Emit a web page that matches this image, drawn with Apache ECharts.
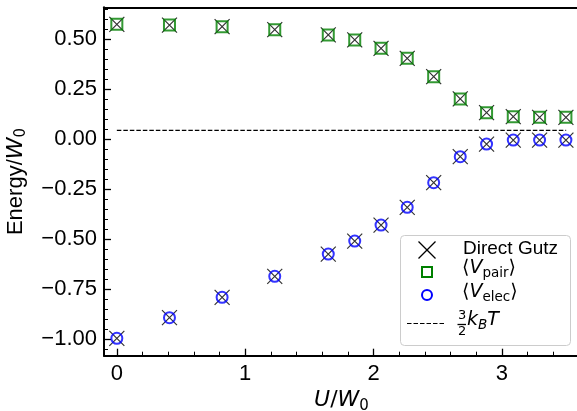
<!DOCTYPE html>
<html>
<head>
<meta charset="utf-8">
<script src="https://cdn.jsdelivr.net/npm/echarts@6/dist/echarts.min.js"></script>
<style>html,body{margin:0;padding:0;background:#fff}#c{width:577px;height:411px}</style>
</head>
<body>
<div id="c"></div>
<script>
// ---- data ----
const U = [0, 0.41, 0.82, 1.23, 1.647, 1.853, 2.058, 2.262, 2.468, 2.675, 2.88, 3.088, 3.293, 3.498];
const Vpair = [0.575, 0.571, 0.563, 0.548, 0.522, 0.497, 0.455, 0.405, 0.313, 0.202, 0.133, 0.113, 0.110, 0.110];
const Velec = [-0.995, -0.892, -0.790, -0.685, -0.574, -0.509, -0.429, -0.340, -0.217, -0.087, -0.024, -0.004, -0.004, -0.004];
const gutzPair = [0.575, 0.571, 0.563, 0.548, 0.522, 0.497, 0.455, 0.405, 0.313, 0.202, 0.133, 0.113, 0.110, 0.110];
const gutzElec = [-0.995, -0.892, -0.790, -0.685, -0.574, -0.509, -0.429, -0.340, -0.217, -0.087, -0.024, -0.004, -0.004, -0.004];
const kTx = [0, 3.5];
const kTy = [0.045, 0.045];
const xTicks = [0, 1, 2, 3];
const yTicks = [-1, -0.75, -0.5, -0.25, 0, 0.25, 0.5];

const xMinor = [];
for (let i = 0; i <= 18; i++) xMinor.push(+(i * 0.2).toFixed(2));
const yMinor = [];
for (let i = -21; i <= 13; i++) yMinor.push(+(i * 0.05).toFixed(2));

const zip = (a, b) => a.map((v, i) => [v, b[i]]);
const XMIN = -0.1, XMAX = 3.6, YMIN = -1.082, YMAX = 0.66;
const TXT = 'Liberation Sans';
const MATH = 'DejaVu Sans';

const chart = echarts.init(document.getElementById('c'), null, {renderer: 'canvas'});
const axisLine = {show: true, onZero: false, lineStyle: {color: '#000', width: 2}};
const noLine = {show: false, onZero: false};
const option = {
  animation: false,
  grid: {left: 104, right: -2, top: 7.3, bottom: 55.3, containLabel: false, outerBoundsMode: 'none'},
  xAxis: [
    {type: 'value', min: XMIN, max: XMAX, position: 'bottom',
     axisLine: axisLine, splitLine: {show: false},
     axisTick: {show: true, inside: true, length: 7, customValues: xTicks, lineStyle: {color: '#000', width: 1.3}},
     axisLabel: {show: true, customValues: xTicks, margin: 7, color: '#000', fontFamily: TXT, fontSize: 22, formatter: v => String(v)},
     name: '{i|U}{n|/}{i|W}{s|0}', nameLocation: 'middle', nameGap: 31,
     nameTextStyle: {rich: {
       i: {fontFamily: MATH, fontStyle: 'italic', fontSize: 22, color: '#000', lineHeight: 26},
       n: {fontFamily: MATH, fontSize: 22, color: '#000', lineHeight: 26},
       s: {fontFamily: MATH, fontSize: 15, color: '#000', lineHeight: 16, verticalAlign: 'bottom'}
     }}},
    {type: 'value', min: XMIN, max: XMAX, position: 'bottom',
     axisLine: noLine, splitLine: {show: false},
     axisTick: {show: true, inside: true, length: 4, customValues: xMinor, lineStyle: {color: '#000', width: 1}},
     axisLabel: {show: false}},
    {type: 'value', min: XMIN, max: XMAX, position: 'top',
     axisLine: axisLine, splitLine: {show: false}, axisTick: {show: false}, axisLabel: {show: false}}
  ],
  yAxis: [
    {type: 'value', min: YMIN, max: YMAX, position: 'left',
     axisLine: axisLine, splitLine: {show: false},
     axisTick: {show: true, inside: true, length: 7, customValues: yTicks, lineStyle: {color: '#000', width: 1.3}},
     axisLabel: {show: true, customValues: yTicks, margin: 7, color: '#000', fontFamily: TXT, fontSize: 22,
       formatter: v => (v < 0 ? '\u2212' : '') + Math.abs(v).toFixed(2)},
     name: '{n|Energy/}{i|W}{s|0}', nameLocation: 'middle', nameGap: 75, nameRotate: 90,
     nameTextStyle: {rich: {
       n: {fontFamily: TXT, fontSize: 22, color: '#000', lineHeight: 26},
       i: {fontFamily: MATH, fontStyle: 'italic', fontSize: 22, color: '#000', lineHeight: 26},
       s: {fontFamily: MATH, fontSize: 15, color: '#000', lineHeight: 16, verticalAlign: 'bottom'}
     }}},
    {type: 'value', min: YMIN, max: YMAX, position: 'left',
     axisLine: noLine, splitLine: {show: false},
     axisTick: {show: true, inside: true, length: 4, customValues: yMinor, lineStyle: {color: '#000', width: 1}},
     axisLabel: {show: false}}
  ],
  series: [
    {name: 'Direct Gutz pair', type: 'scatter', data: zip(U, gutzPair), symbol: 'path://M0 0L10 10M10 0L0 10', symbolSize: 15,
     itemStyle: {color: 'rgba(0,0,0,0)', borderColor: '#000', borderWidth: 1.2}, z: 3},
    {name: 'Direct Gutz elec', type: 'scatter', data: zip(U, gutzElec), symbol: 'path://M0 0L10 10M10 0L0 10', symbolSize: 15,
     itemStyle: {color: 'rgba(0,0,0,0)', borderColor: '#000', borderWidth: 1.2}, z: 3},
    {name: 'Vpair', type: 'scatter', data: zip(U, Vpair), symbol: 'rect', symbolSize: 11,
     itemStyle: {color: 'rgba(0,0,0,0)', borderColor: '#008000', borderWidth: 2}, z: 4},
    {name: 'Velec', type: 'scatter', data: zip(U, Velec), symbol: 'circle', symbolSize: 11,
     itemStyle: {color: 'rgba(0,0,0,0)', borderColor: '#0000ff', borderWidth: 2}, z: 4},
    {name: 'kT', type: 'line', data: zip(kTx, kTy), symbol: 'none',
     lineStyle: {color: '#000', width: 1.2, type: [4.5, 2]}, z: 2}
  ],
  graphic: [
    {type: 'rect', left: 400, top: 235, shape: {width: 170, height: 110, r: 4},
     style: {fill: 'rgba(255,255,255,0.85)', stroke: '#cccccc', lineWidth: 1}, z: 100},
    {type: 'polyline', shape: {points: [[418.5, 241.5], [435.5, 258.5]]}, style: {stroke: '#000', lineWidth: 1.3}, z: 101},
    {type: 'polyline', shape: {points: [[435.5, 241.5], [418.5, 258.5]]}, style: {stroke: '#000', lineWidth: 1.3}, z: 101},
    {type: 'rect', shape: {x: 422, y: 267, width: 10, height: 10}, style: {fill: 'none', stroke: '#008000', lineWidth: 2}, z: 101},
    {type: 'circle', shape: {cx: 427, cy: 295, r: 5}, style: {fill: 'none', stroke: '#0000ff', lineWidth: 2}, z: 101},
    {type: 'line', shape: {x1: 407, y1: 323.5, x2: 446, y2: 323.5}, style: {stroke: '#000', lineWidth: 1.2, lineDash: [4.5, 2]}, z: 101},
    {type: 'text', left: 463, top: 239, style: {text: 'Direct Gutz', font: '19px "Liberation Sans"', fill: '#000'}, z: 101},
    {type: 'text', left: 462, top: 259, style: {
      text: '{n|\u27E8}{i|V}{s|pair}{n|\u27E9}',
      rich: {
        n: {fontFamily: MATH, fontSize: 19, fill: '#000', lineHeight: 24},
        i: {fontFamily: MATH, fontStyle: 'italic', fontSize: 19, fill: '#000', lineHeight: 24},
        s: {fontFamily: MATH, fontSize: 13.5, fill: '#000', lineHeight: 14, verticalAlign: 'bottom'}
      }}, z: 101},
    {type: 'text', left: 462, top: 283, style: {
      text: '{n|\u27E8}{i|V}{s|elec}{n|\u27E9}',
      rich: {
        n: {fontFamily: MATH, fontSize: 19, fill: '#000', lineHeight: 24},
        i: {fontFamily: MATH, fontStyle: 'italic', fontSize: 19, fill: '#000', lineHeight: 24},
        s: {fontFamily: MATH, fontSize: 13.5, fill: '#000', lineHeight: 14, verticalAlign: 'bottom'}
      }}, z: 101},
    {type: 'text', left: 458, top: 309, style: {text: '3', font: '13px "DejaVu Sans"', fill: '#000'}, z: 101},
    {type: 'line', shape: {x1: 457.5, y1: 324.5, x2: 466, y2: 324.5}, style: {stroke: '#000', lineWidth: 1.3}, z: 101},
    {type: 'text', left: 458, top: 325, style: {text: '2', font: '13px "DejaVu Sans"', fill: '#000'}, z: 101},
    {type: 'text', left: 467, top: 311, style: {
      text: '{i|k}{s|B}{i|T}',
      rich: {
        i: {fontFamily: MATH, fontStyle: 'italic', fontSize: 19, fill: '#000', lineHeight: 24},
        s: {fontFamily: MATH, fontStyle: 'italic', fontSize: 13.5, fill: '#000', lineHeight: 14, verticalAlign: 'bottom'}
      }}, z: 101}
  ]
};
chart.setOption(option);
</script>
</body>
</html>
